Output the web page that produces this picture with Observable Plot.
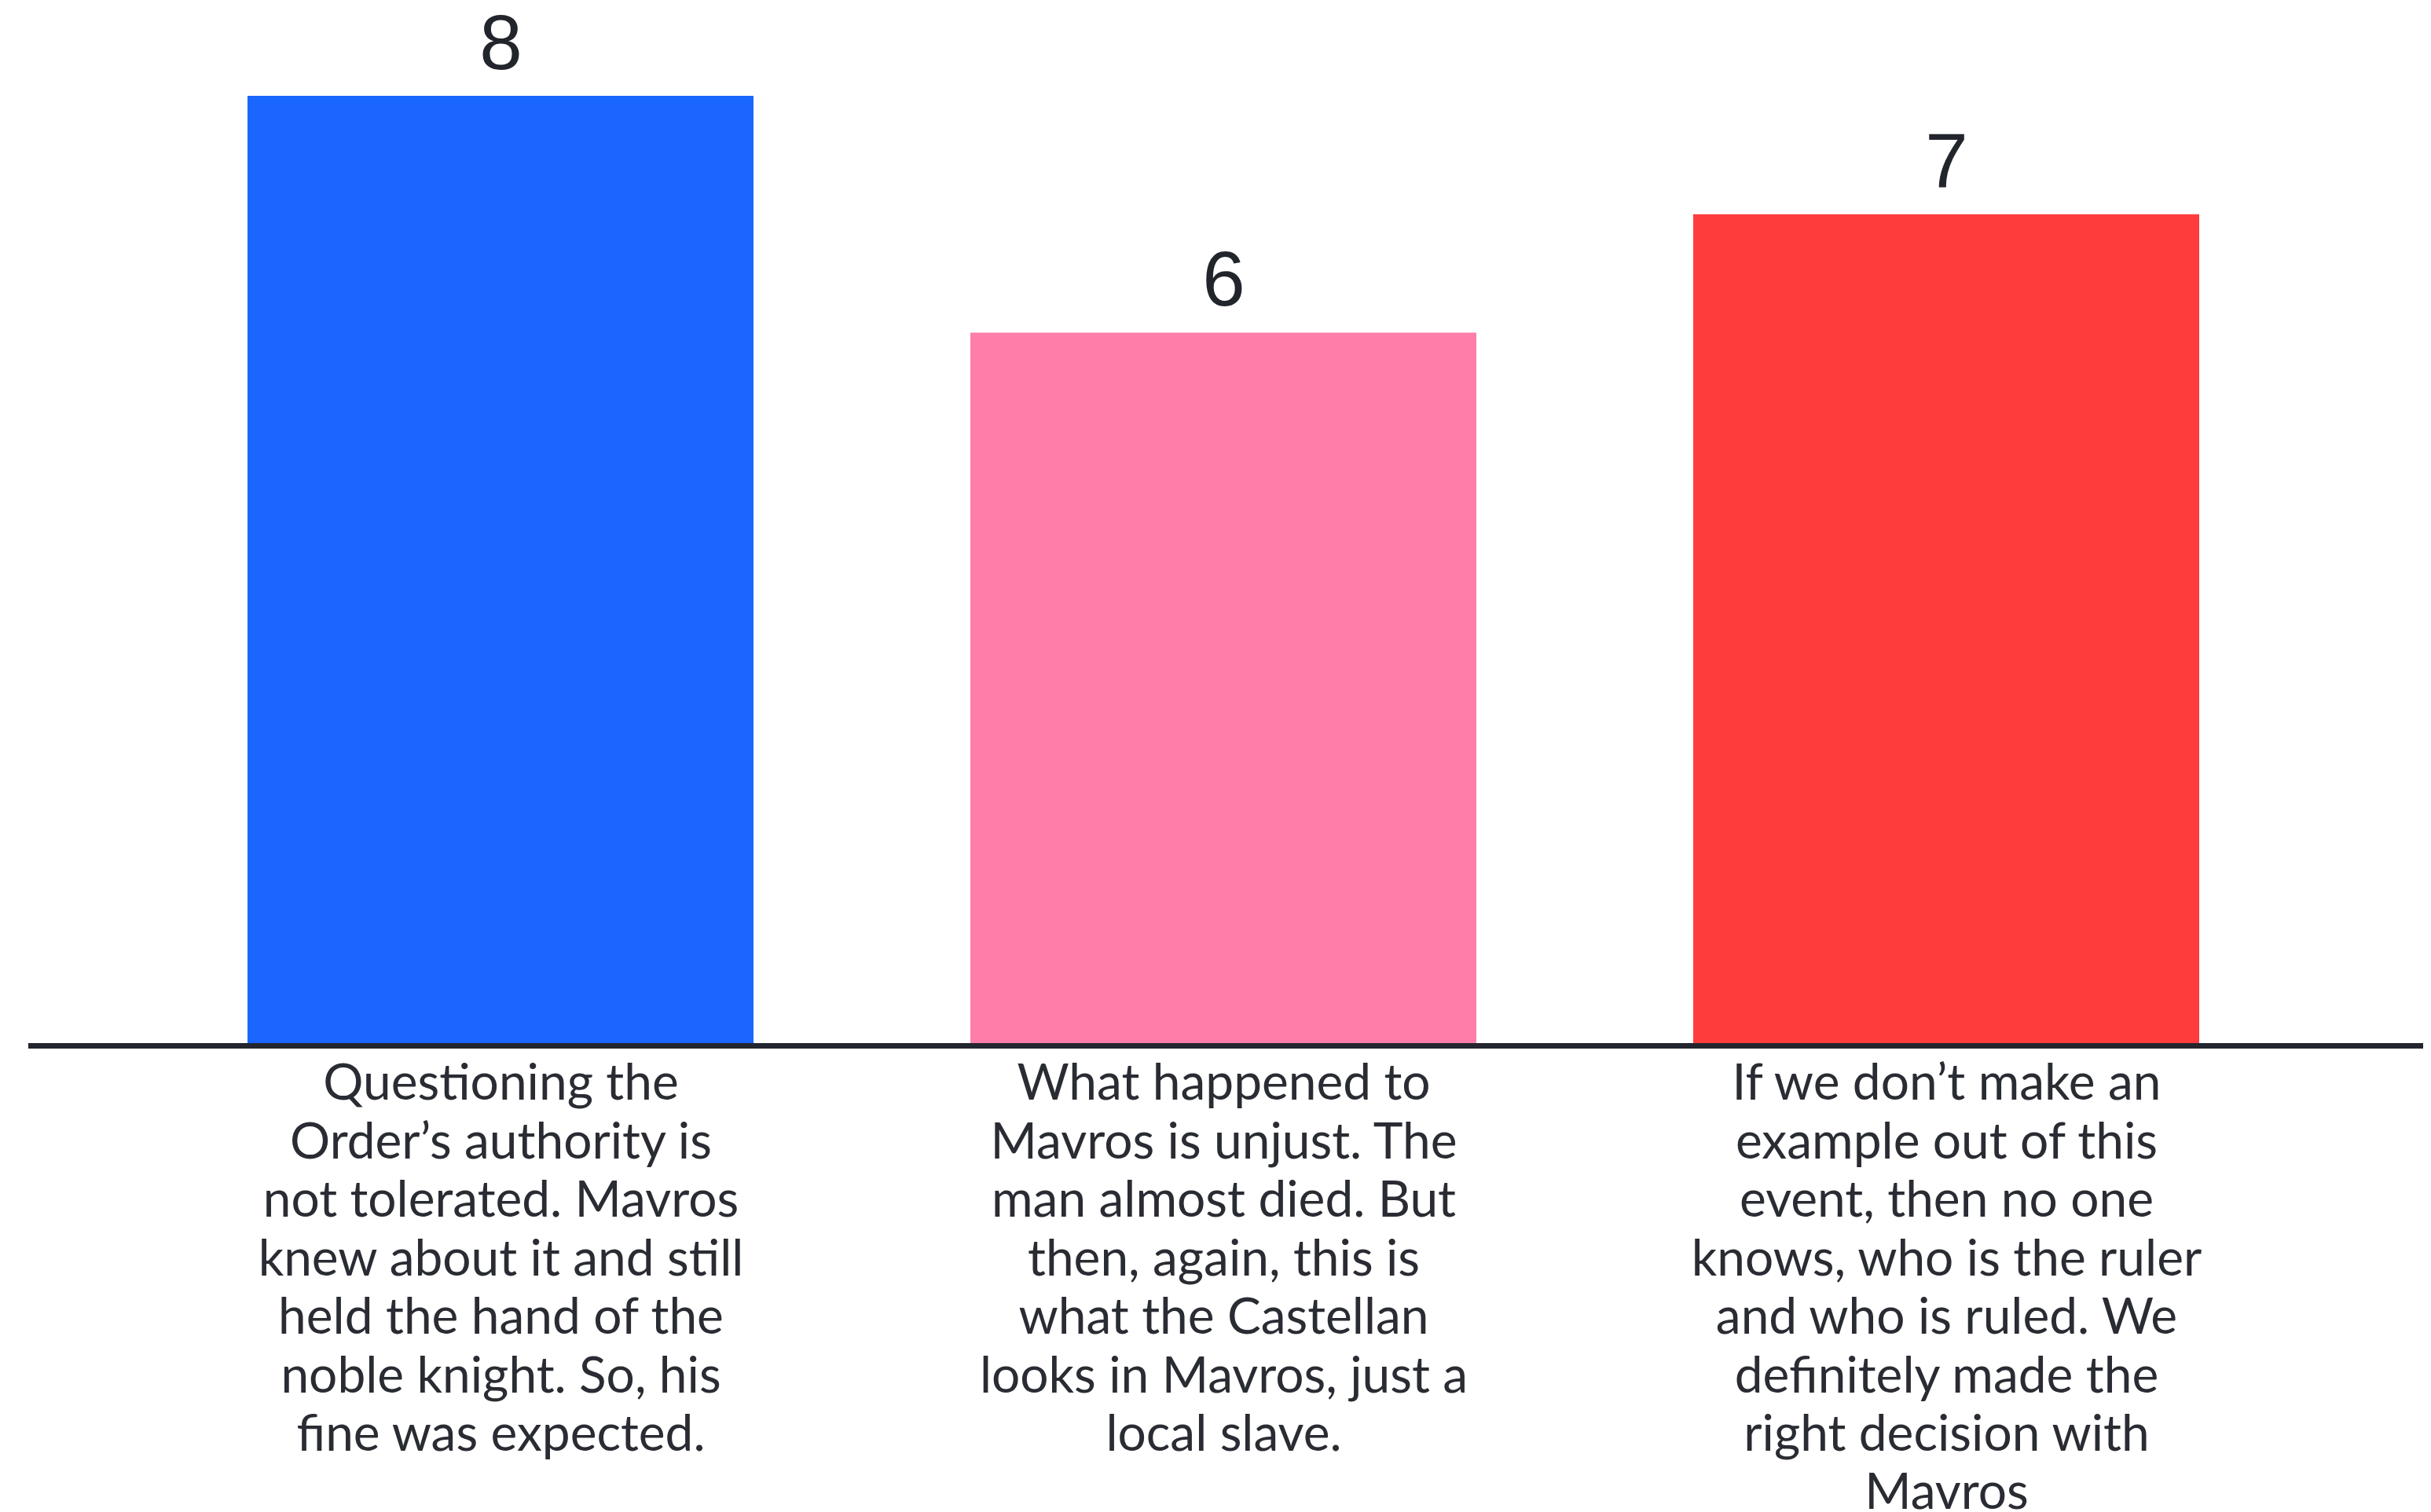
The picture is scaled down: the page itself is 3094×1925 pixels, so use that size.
<!DOCTYPE html>
<html>
<head>
<meta charset="utf-8">
<script src="https://cdn.jsdelivr.net/npm/d3@7"></script>
<script src="https://cdn.jsdelivr.net/npm/@observablehq/plot@0.6"></script>
<style>
  html, body { margin: 0; padding: 0; background: #ffffff; }
  #chart svg { display: block; }
</style>
</head>
<body>
<div id="chart"></div>
<script>
const categories = [
  "Questioning the\nOrder’s authority is\nnot tolerated. Mavros\nknew about it and still\nheld the hand of the\nnoble knight. So, his\nfine was expected.",
  "What happened to\nMavros is unjust. The\nman almost died. But\nthen, again, this is\nwhat the Castellan\nlooks in Mavros, just a\nlocal slave.",
  "If we don’t make an\nexample out of this\nevent, then no one\nknows, who is the ruler\nand who is ruled. We\ndefinitely made the\nright decision with\nMavros"
];
const values = [8, 6, 7];
const colors = ["#1a66ff", "#ff7ea9", "#ff3c3c"];

const data = categories.map((c, i) => ({category: c, value: values[i], color: colors[i]}));

const chart = Plot.plot({
  width: 3094,
  height: 1925,
  marginTop: 122,
  marginBottom: 597,
  marginLeft: 38,
  marginRight: 18,
  style: {background: "#ffffff"},
  x: {domain: categories, padding: 0.3, axis: null},
  y: {domain: [0, 8], axis: null},
  marks: [
    Plot.barY(data, {x: "category", y: "value", fill: "color"}),
    Plot.ruleY([0], {stroke: "#23262e", strokeWidth: 7, insetLeft: -2, insetRight: -8, dy: 3}),
    Plot.text(data, {
      x: "category", y: "value", text: d => String(d.value),
      dy: -35, lineAnchor: "bottom", fontSize: 98,
      fontFamily: "Liberation Sans, Arial, sans-serif", fill: "#22252b"
    }),
    Plot.axisX({
      anchor: "bottom", tickSize: 0, tickPadding: 19, fontSize: 64,
      lineHeight: 1.163, fontFamily: "Lato, sans-serif", fill: "#2a2c33",
      label: null
    })
  ]
});
document.getElementById("chart").appendChild(chart);
</script>
</body>
</html>
